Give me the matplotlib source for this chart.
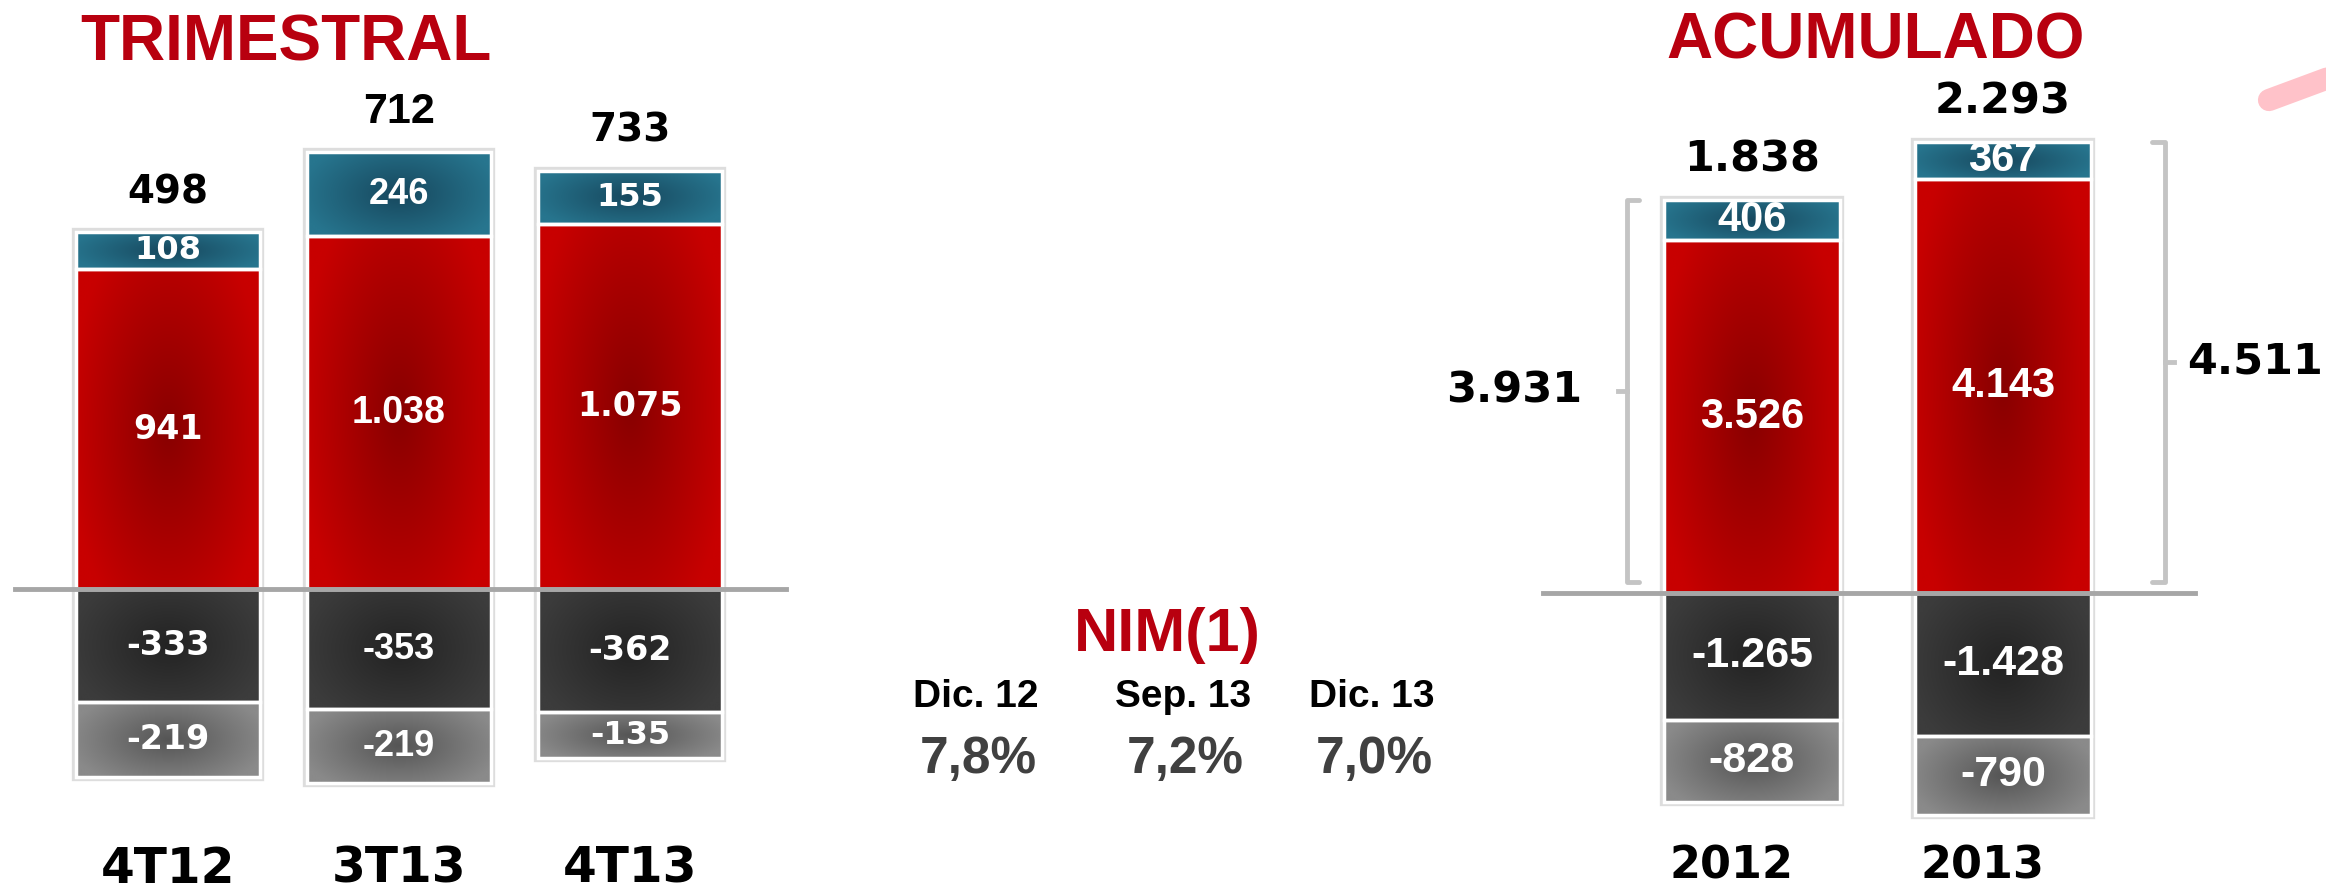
import numpy as np
import matplotlib
matplotlib.use("Agg")
import matplotlib.pyplot as plt
from matplotlib.transforms import blended_transform_factory
from matplotlib.patches import Rectangle

# --- data ---------------------------------------------------------------
q_labels = ["4T12", "3T13", "4T13"]
q_red = [941, 1038, 1075]
q_teal = [108, 246, 155]
q_dark = [-333, -353, -362]
q_grey = [-219, -219, -135]
q_total = ["498", "712", "733"]

y_labels = ["2012", "2013"]
y_red = [3526, 4143]
y_teal = [406, 367]
y_dark = [-1265, -1428]
y_grey = [-828, -790]
y_total = ["1.838", "2.293"]
y_bracket = ["3.931", "4.511"]

nim_periods = ["Dic. 12", "Sep. 13", "Dic. 13"]
nim_values = [7.8, 7.2, 7.0]

RED_T = "#b8000f"
WIDE = "DejaVu Sans"
ARIAL = "Liberation Sans"

# gradient colours: (centre, edge)
GRAD = {
    "red": ("#880000", "#c80000"),
    "teal": ("#17485e", "#27758e"),
    "dark": ("#232323", "#3c3c3c"),
    "grey": ("#555555", "#8a8a8a"),
}

# font (family, size) per segment label, one entry per bar
q_fonts = {
    "total": [(WIDE, 28), (ARIAL, 31), (WIDE, 28)],
    "teal": [(WIDE, 23), (ARIAL, 26), (WIDE, 23)],
    "red": [(WIDE, 24), (ARIAL, 27), (WIDE, 24)],
    "dark": [(WIDE, 24), (ARIAL, 26), (WIDE, 24)],
    "grey": [(WIDE, 24), (ARIAL, 26), (WIDE, 23)],
}
y_fonts = {
    "total": [(WIDE, 31), (WIDE, 31)],
    "teal": [(ARIAL, 30), (ARIAL, 30)],
    "red": [(ARIAL, 30), (ARIAL, 30)],
    "dark": [(ARIAL, 31), (ARIAL, 31)],
    "grey": [(ARIAL, 31), (ARIAL, 31)],
}


def fmt(v):
    s = f"{abs(v):,}".replace(",", ".")
    return "-" + s if v < 0 else s


def hex2rgb(h):
    return np.array([int(h[i:i + 2], 16) / 255 for i in (1, 3, 5)])


def radial(kind, n=80):
    c, e = hex2rgb(GRAD[kind][0]), hex2rgb(GRAD[kind][1])
    u, v = np.meshgrid(np.linspace(-1, 1, n), np.linspace(-1, 1, n))
    r = np.clip(np.sqrt(u ** 2 + (v * 0.8) ** 2) / 1.1, 0, 1)
    return c[None, None, :] * (1 - r[..., None]) + e[None, None, :] * r[..., None]


def shaded_bars(ax, x, heights, bottoms, kind, width):
    bars = ax.bar(x, heights, width, bottom=bottoms, facecolor="none",
                  edgecolor="white", linewidth=2.5, zorder=3)
    for p in bars:
        x0, y0 = p.get_x(), p.get_y()
        x1, y1 = x0 + p.get_width(), y0 + p.get_height()
        im = ax.imshow(radial(kind), extent=[x0, x1, min(y0, y1), max(y0, y1)],
                       aspect="auto", zorder=2, interpolation="bilinear")
        im.set_clip_path(p)
    return bars


def stack(ax, red, teal, dark, grey, totals, width, fonts):
    x = np.arange(len(red))
    red, teal = np.array(red), np.array(teal)
    dark, grey = np.array(dark), np.array(grey)
    top = red + teal
    bot = dark + grey
    # soft frame behind each stack
    for i in x:
        ax.add_patch(Rectangle((i - width / 2, bot[i]), width, top[i] - bot[i],
                               facecolor="white", edgecolor="#dddddd",
                               linewidth=6, zorder=1))
    shaded_bars(ax, x, red, 0, "red", width)
    shaded_bars(ax, x, teal, red, "teal", width)
    shaded_bars(ax, x, dark, 0, "dark", width)
    shaded_bars(ax, x, grey, dark, "grey", width)
    for i in x:
        segs = [("red", red[i] / 2, red[i]),
                ("teal", red[i] + teal[i] / 2, teal[i]),
                ("dark", dark[i] / 2, dark[i]),
                ("grey", dark[i] + grey[i] / 2, grey[i])]
        for key, yc, val in segs:
            fam, size = fonts[key][i]
            ax.text(i, yc, fmt(val), ha="center", va="center", color="white",
                    fontweight="bold", fontsize=size, family=fam, zorder=5)
        fam, size = fonts["total"][i]
        ax.annotate(totals[i], (i, top[i]), xytext=(0, 29),
                    textcoords="offset points", ha="center", va="center",
                    fontsize=size, fontweight="bold", family=fam, color="black")
    return x, top


fig = plt.figure(figsize=(23.26, 8.9), dpi=100)

# --- TRIMESTRAL ---------------------------------------------------------
axq = fig.add_axes([0, 0, 800 / 2326, 1])
xq, topq = stack(axq, q_red, q_teal, q_dark, q_grey, q_total, 0.8, q_fonts)
axq.set_xlim(-168 / 231, (800 - 168) / 231)
axq.set_ylim(-301 / 0.34, 589 / 0.34)
axq.axhline(0, 15 / 800, 786 / 800, color="#a6a6a6", lw=3.5, zorder=4)
tq = blended_transform_factory(axq.transData, axq.transAxes)
for i, lab in enumerate(q_labels):
    axq.text(xq[i], 0.024, lab, transform=tq, ha="center", va="center",
             fontsize=35, fontweight="bold", family=WIDE)
axq.axis("off")

# --- ACUMULADO ----------------------------------------------------------
axy = fig.add_axes([1400 / 2326, 0, 926 / 2326, 1])
xy, topy = stack(axy, y_red, y_teal, y_dark, y_grey, y_total, 0.7, y_fonts)
axy.set_xlim((1400 - 1752) / 251, (2326 - 1752) / 251)
axy.set_ylim(-297 / 0.1, 593 / 0.1)
axy.axhline(0, 143 / 926, 795 / 926, color="#a6a6a6", lw=3.5, zorder=4)
ty = blended_transform_factory(axy.transData, axy.transAxes)
for i, lab in enumerate(y_labels):
    axy.text(xy[i] - 0.08, 0.027, lab, transform=ty, ha="center", va="center",
             fontsize=32, fontweight="bold", family=WIDE)

# brackets around the positive part
for i, side in enumerate([-1, 1]):
    bx = xy[i] + side * (0.5 if side < 0 else 0.645)
    y0, y1 = 110, topy[i]
    hook = 0.05 * -side
    axy.plot([bx + hook, bx, bx, bx + hook], [y0, y0, y1, y1],
             color="#c4c4c4", lw=3.5, solid_joinstyle="round",
             solid_capstyle="round", clip_on=False, zorder=2)
    ym = (y0 + y1) / 2
    axy.plot([bx, bx - hook * 0.7], [ym, ym], color="#c4c4c4", lw=3.5,
             clip_on=False, zorder=2)
    axy.text(bx - hook * (3.5 if side < 0 else 1.8), ym, y_bracket[i],
             ha="right" if side < 0 else "left", va="center",
             fontsize=31, fontweight="bold", family=WIDE, clip_on=False)
axy.axis("off")

# --- NIM block -----------------------------------------------------------
fig.text(0.5017, 0.2865, "NIM(1)", ha="center", va="center", color=RED_T,
         fontsize=44, fontweight="bold", family=ARIAL)
nim_x = [0.4195, 0.5085, 0.5898]
for i, per in enumerate(nim_periods):
    fig.text(nim_x[i], 0.217, per, ha="center", va="center",
             fontsize=28, fontweight="bold", family=ARIAL)
    fig.text(nim_x[i] + 0.001, 0.147, f"{nim_values[i]:.1f}%".replace(".", ","),
             ha="center", va="center", fontsize=37, fontweight="bold",
             family=ARIAL, color="#404040")

# titles
fig.text(0.123, 0.951, "TRIMESTRAL", ha="center", va="center", color=RED_T,
         fontsize=46, fontweight="bold", family=ARIAL)
fig.text(0.8065, 0.953, "ACUMULADO", ha="center", va="center", color=RED_T,
         fontsize=46, fontweight="bold", family=ARIAL)

# faint decorative stroke in the corner
fig.add_artist(plt.Line2D([0.9755, 1.01], [0.8876, 0.921], transform=fig.transFigure,
                          color="#ffbcc3", lw=16, solid_capstyle="round", alpha=0.9))

fig.savefig("out.png", dpi=100, facecolor="white")
